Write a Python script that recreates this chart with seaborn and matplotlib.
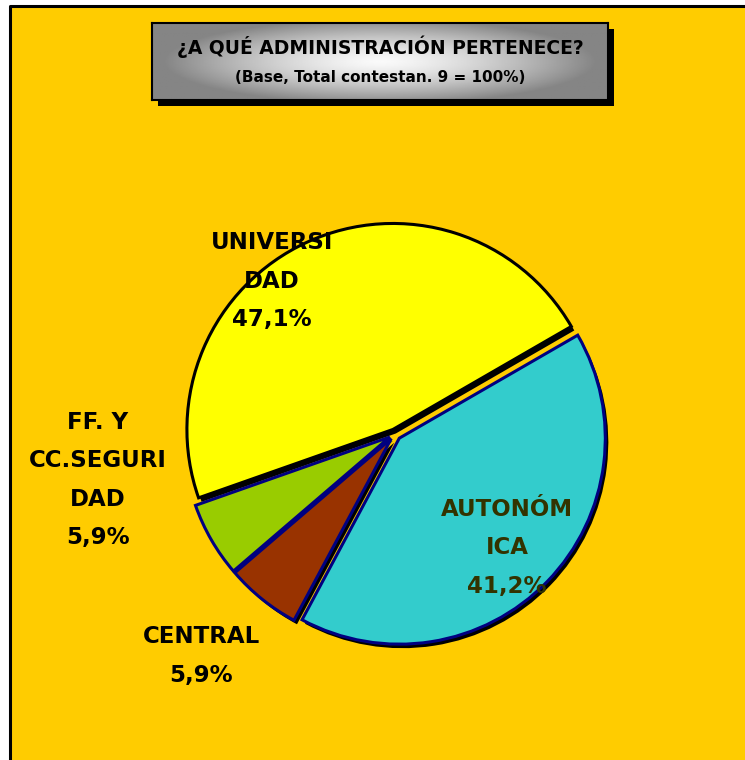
"""Pie chart: ¿A qué administración pertenece? (Base 9 = 100%)."""
import numpy as np
import matplotlib.pyplot as plt
import seaborn as sns
from matplotlib.patches import Rectangle

sns.set_theme(style="white")
plt.rcParams["font.family"] = ["DejaVu Sans"]

# data
categories = ["UNIVERSI\nDAD", "FF. Y\nCC.SEGURI\nDAD", "CENTRAL", "AUTONÓM\nICA"]
shares = [47.1, 5.9, 5.9, 41.2]
pct_labels = ["47,1%", "5,9%", "5,9%", "41,2%"]
title = "¿A QUÉ ADMINISTRACIÓN PERTENECE?"
subtitle = "(Base, Total contestan. 9 = 100%)"

# styling
slice_colors = sns.color_palette(["#FFFF00", "#99CC00", "#993300", "#33CCCC"])
edge_colors = ["black", "#000080", "#000080", "#000080"]
text_colors = ["black", "black", "black", "#333300"]
explode = [5, 6, 6, 6]  # pixels
label_xy = [(272, 479), (98, 280), (201, 104), (507, 212)]  # pixel units, y up
BG = "#FFCC00"
W, H = 745, 760

fig = plt.figure(figsize=(W / 100, H / 100), dpi=100, facecolor="white")
ax = fig.add_axes([0, 0, 1, 1])

center = (395, 326)
radius = 206

# shadow pie
ax.pie(shares, center=(center[0] + 3, center[1] - 4), radius=radius,
       explode=explode, startangle=30, colors=["black"] * 4,
       wedgeprops=dict(linewidth=0))
wedges, _ = ax.pie(shares, center=center, radius=radius, explode=explode,
                   startangle=30, colors=slice_colors,
                   wedgeprops=dict(linewidth=2.2))
for w, ec in zip(wedges, edge_colors):
    w.set_edgecolor(ec)

for cat, pct, (x, y), c in zip(categories, pct_labels, label_xy, text_colors):
    ax.text(x, y, f"{cat}\n{pct}", ha="center", va="center", fontsize=16.5,
            fontweight="bold", color=c, linespacing=1.85, zorder=5)

# background panel with black top/left border
ax.add_patch(Rectangle((10, -20), 800, 774, facecolor=BG, linewidth=0, zorder=0))
ax.plot([10, 10, W + 10], [-10, H - 6, H - 6], color="black", linewidth=2.2,
        solid_capstyle="projecting", zorder=0.5)
# title box shadow
ax.add_patch(Rectangle((158, H - 106), 456, 77, facecolor="black",
                       edgecolor="black", linewidth=0, zorder=1))
ax.set_xlim(0, W)
ax.set_ylim(0, H)
ax.set_aspect("equal")
ax.set_axis_off()

# title box with radial grey gradient
tax = fig.add_axes([152 / W, (H - 100) / H, 456 / W, 77 / H])
xx, yy = np.meshgrid(np.linspace(-1, 1, 300), np.linspace(-1, 1, 100))
r = np.clip(np.sqrt((xx * 1.05) ** 2 + (yy * 0.9) ** 2), 0, 1)
grad = 0.98 - 0.46 * r ** 1.4
tax.imshow(grad, cmap="gray", vmin=0, vmax=1, extent=(0, 1, 0, 1), aspect="auto")
tax.set_xticks([])
tax.set_yticks([])
for s in tax.spines.values():
    s.set_color("black")
    s.set_linewidth(1.5)
tax.text(0.5, 0.69, title, ha="center", va="center", fontsize=13.5,
         fontweight="bold", color="black", transform=tax.transAxes)
tax.text(0.5, 0.29, subtitle, ha="center", va="center", fontsize=11,
         fontweight="bold", color="black", transform=tax.transAxes)

fig.savefig("out.png", dpi=100, facecolor="white")
